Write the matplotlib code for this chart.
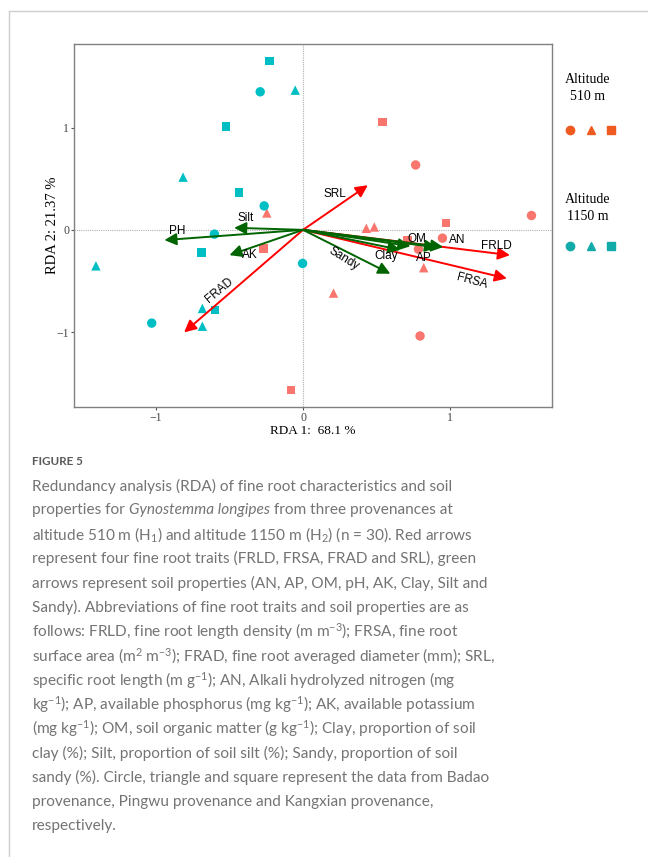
import matplotlib
matplotlib.use("Agg")
import matplotlib.pyplot as plt
from matplotlib.lines import Line2D

# ---- site scores (RDA1, RDA2) by altitude and provenance ----
low_circle_x = [0.765, 1.552, 0.947, 0.784, 0.795]
low_circle_y = [0.634, 0.140, -0.081, -0.189, -1.037]
low_triangle_x = [-0.246, 0.430, 0.484, 0.820, 0.207]
low_triangle_y = [0.165, 0.015, 0.028, -0.370, -0.618]
low_square_x = [0.539, 0.972, -0.269, -0.080, 0.711]
low_square_y = [1.054, 0.065, -0.182, -1.564, -0.105]

high_circle_x = [-0.291, -0.264, -0.602, -0.003, -1.028]
high_circle_y = [1.349, 0.234, -0.042, -0.328, -0.911]
high_triangle_x = [-0.053, -0.815, -1.407, -0.684, -0.684]
high_triangle_y = [1.365, 0.515, -0.352, -0.768, -0.942]
high_square_x = [-0.228, -0.522, -0.434, -0.690, -0.597]
high_square_y = [1.652, 1.008, 0.364, -0.221, -0.784]

# ---- biplot arrows ----
trait_names = ["FRLD", "FRSA", "FRAD", "SRL"]
trait_x = [1.406, 1.385, -0.808, 0.44]
trait_y = [-0.247, -0.475, -1.002, 0.436]

soil_names = ["AN", "AP", "OM", "PH", "AK", "Clay", "Silt", "Sandy"]
soil_x = [0.952, 0.91, 0.73, -0.942, -0.50, 0.661, -0.468, 0.593]
soil_y = [-0.168, -0.172, -0.160, -0.100, -0.247, -0.195, 0.020, -0.429]

# label anchor points and rotation for each arrow
label_pos = {
    "FRLD": (1.313, -0.156, 0), "FRSA": (1.148, -0.498, -15),
    "FRAD": (-0.569, -0.593, 40), "SRL": (0.213, 0.352, 0),
    "AN": (1.046, -0.104, 0), "AP": (0.824, -0.277, 0),
    "OM": (0.777, -0.085, 0), "PH": (-0.858, -0.016, 0),
    "AK": (-0.36, -0.244, 0), "Clay": (0.562, -0.254, 0),
    "Silt": (-0.387, 0.114, 0), "Sandy": (0.274, -0.286, -32),
}

x_label = "RDA 1:  68.1 %"
y_label = "RDA 2: 21.37 %"

plt.rcParams["mathtext.fontset"] = "custom"
plt.rcParams["mathtext.rm"] = "Lato"
plt.rcParams["mathtext.it"] = "Lato:italic"

W, H = 648, 857
fig = plt.figure(figsize=(W / 100, H / 100), dpi=100)
fig.patch.set_facecolor("white")

# page frame lines
fig.add_artist(Line2D([9 / W, 1], [1 - 11 / H, 1 - 11 / H], color="#cfcfcf", lw=1.0))
fig.add_artist(Line2D([9 / W, 9 / W], [0, 1 - 11 / H], color="#cfcfcf", lw=1.0))

ax_l, ax_r, ax_t, ax_b = 74, 551.5, 44, 407
ax = fig.add_axes([ax_l / W, 1 - ax_b / H, (ax_r - ax_l) / W, (ax_b - ax_t) / H])
ax.set_xlim(-1.556, 1.688)
ax.set_ylim(-1.731, 1.816)

ax.axhline(0, color="#b0b0b0", lw=0.8, ls=(0, (1, 1)), zorder=1)
ax.axvline(0, color="#b0b0b0", lw=0.8, ls=(0, (1, 1)), zorder=1)

salmon = "#F8766D"
teal = "#00BFC4"
ms = 46
for xs, ys, m, c in [
    (low_circle_x, low_circle_y, "o", salmon),
    (low_triangle_x, low_triangle_y, "^", salmon),
    (low_square_x, low_square_y, "s", salmon),
    (high_circle_x, high_circle_y, "o", teal),
    (high_triangle_x, high_triangle_y, "^", teal),
    (high_square_x, high_square_y, "s", teal),
]:
    size = ms * (0.8 if m == "s" else 1.0)
    ax.scatter(xs, ys, marker=m, s=size, color=c, edgecolors="none", zorder=2)

label_font = dict(family="Liberation Sans", fontsize=8.5, color="black")


def draw_arrows(names, xs, ys, color):
    for n, x, y in zip(names, xs, ys):
        ax.annotate("", xy=(x, y), xytext=(0, 0),
                    arrowprops=dict(arrowstyle="-|>", color=color, lw=1.4,
                                    mutation_scale=18, shrinkA=0, shrinkB=0),
                    zorder=3)
        lx, ly, rot = label_pos[n]
        ax.text(lx, ly, n, ha="center", va="center", rotation=rot,
                zorder=4, **label_font)


draw_arrows(trait_names, trait_x, trait_y, "#FF0000")
draw_arrows(soil_names, soil_x, soil_y, "#006400")

ax.set_xticks([-1, 0, 1])
ax.set_yticks([-1, 0, 1])
ax.set_xticklabels(["\u22121", "0", "1"])
ax.set_yticklabels(["\u22121", "0", "1"])
for lab in ax.get_xticklabels() + ax.get_yticklabels():
    lab.set_fontfamily("Liberation Serif")
    lab.set_fontsize(8.5)
    lab.set_color("#444444")
ax.tick_params(length=2.5, width=0.8, color="#555555", pad=1)
for sp in ax.spines.values():
    sp.set_color("#808080")
    sp.set_linewidth(1.0)

ax.set_xlabel(x_label, family="Liberation Serif", fontsize=9.5)
ax.set_ylabel(y_label, family="Liberation Serif", fontsize=10.5)
ax.xaxis.set_label_coords(0.5, -(431 - ax_b) / (ax_b - ax_t))
ax.xaxis.label.set_va("center")
ax.yaxis.set_label_coords(-(ax_l - 53) / (ax_r - ax_l), 0.5)
ax.yaxis.label.set_va("center")

# legend blocks on the right
leg_orange = "#EE5A1F"
leg_teal = "#13AAAA"
fig.text(588 / W, 1 - 88 / H, "Altitude\n510 m", ha="center", va="center",
         family="Liberation Serif", fontsize=10, linespacing=1.45)
fig.text(588 / W, 1 - 208 / H, "Altitude\n1150 m", ha="center", va="center",
         family="Liberation Serif", fontsize=10, linespacing=1.45)
for yy, c in [(130, leg_orange), (246, leg_teal)]:
    for xx, m in [(570, "o"), (591, "^"), (611, "s")]:
        fig.add_artist(Line2D([xx / W], [1 - yy / H], marker=m, color=c,
                              markersize=6 if m != "s" else 5.5, ls="none"))

# caption
cap_color = "#747474"
cap_size = 11.1
fig.text(32 / W, 1 - 462 / H, "FIGURE 5", family="Lato", fontweight="bold",
         fontsize=8.4, color="#5a5a5a", va="center")

N, I = "normal", "italic"
caption_lines = [
    [("Redundancy analysis (RDA) of fine root characteristics and soil", N)],
    [("properties for ", N), ("Gynostemma longipes", I),
     (" from three provenances at", N)],
    [(r"altitude 510 m (H$_1$) and altitude 1150 m (H$_2$) (n = 30). Red arrows", N)],
    [("represent four fine root traits (FRLD, FRSA, FRAD and SRL), green", N)],
    [("arrows represent soil properties (AN, AP, OM, pH, AK, Clay, Silt and", N)],
    [("Sandy). Abbreviations of fine root traits and soil properties are as", N)],
    [(r"follows: FRLD, fine root length density (m m$^{-3}$); FRSA, fine root", N)],
    [(r"surface area (m$^{2}$ m$^{-3}$); FRAD, fine root averaged diameter (mm); SRL,", N)],
    [(r"specific root length (m g$^{-1}$); AN, Alkali hydrolyzed nitrogen (mg", N)],
    [(r"kg$^{-1}$); AP, available phosphorus (mg kg$^{-1}$); AK, available potassium", N)],
    [(r"(mg kg$^{-1}$); OM, soil organic matter (g kg$^{-1}$); Clay, proportion of soil", N)],
    [("clay (%); Silt, proportion of soil silt (%); Sandy, proportion of soil", N)],
    [("sandy (%). Circle, triangle and square represent the data from Badao", N)],
    [("provenance, Pingwu provenance and Kangxian provenance,", N)],
    [("respectively.", N)],
]

renderer = fig.canvas.get_renderer()
y0 = 486
for i, segs in enumerate(caption_lines):
    x = 32
    for txt, style in segs:
        fig.text(x / W, 1 - (y0 + i * 24.3) / H, txt, family="Lato",
                 style=style, fontsize=cap_size, color=cap_color, va="center")
        # measure with a trailing marker so spaces count toward the advance
        probe = fig.text(0, 0, txt.replace(" ", "\u00a0") + "|", family="Lato",
                         style=style, fontsize=cap_size)
        bar = fig.text(0, 0, "|", family="Lato", style=style, fontsize=cap_size)
        x += (probe.get_window_extent(renderer).width
              - bar.get_window_extent(renderer).width)
        probe.remove()
        bar.remove()

fig.savefig("out.png", dpi=100)
